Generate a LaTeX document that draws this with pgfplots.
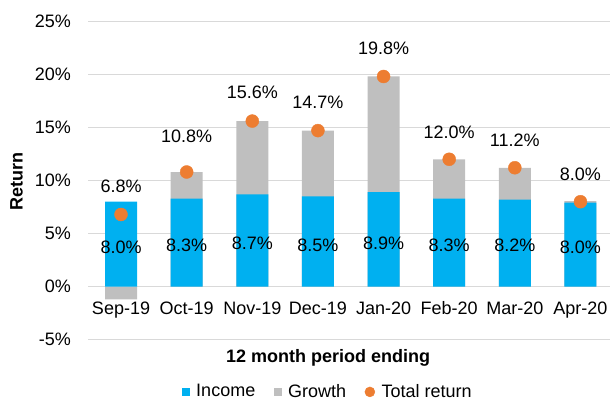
\documentclass[border=0pt]{standalone}
\usepackage{pgfplots}
\pgfplotsset{compat=1.18}
\usepackage{fontspec}
\setmainfont{Liberation Sans}
\definecolor{inc}{HTML}{00B0F0}
\definecolor{gro}{HTML}{BFBFBF}
\definecolor{tot}{HTML}{ED7D31}
\definecolor{gridc}{HTML}{D9D9D9}
\begin{document}
\fontsize{18bp}{21bp}\selectfont
\begin{tikzpicture}
\useasboundingbox (0,0) rectangle (610bp,401bp);
\begin{axis}[
  at={(88.2bp,61.3bp)}, anchor=south west,
  scale only axis, width=521.8bp, height=318.4bp,
  xmin=-0.5, xmax=7.45, ymin=-5, ymax=25,
  ytick={-5,0,5,10,15,20,25},
  yticklabels={-5\%,0\%,5\%,10\%,15\%,20\%,25\%},
  xtick={0,1,2,3,4,5,6,7},
  xticklabels={Sep-19,Oct-19,Nov-19,Dec-19,Jan-20,Feb-20,Mar-20,Apr-20},
  xticklabel style={yshift=44bp},
  yticklabel style={xshift=-11bp},
  axis line style={draw=none},
  major tick length=0pt,
  ymajorgrids, grid style={gridc, line width=1.2bp},
  xlabel={\bfseries 12 month period ending},
  xlabel style={at={(axis description cs:0.4598,-0.056)}, anchor=center},
  ylabel={\bfseries Return},
  ylabel style={at={(axis description cs:-0.1374,0.498)}, anchor=center},
  legend columns=-1,
  legend style={draw=none, at={(axis description cs:0.4605,-0.164)}, anchor=center,
    /tikz/every even column/.append style={column sep=15bp},
    nodes={inner xsep=3.5bp}},
]
\addlegendimage{legend image code/.code={\fill[inc] (0bp,-3.75bp) rectangle (7.5bp,3.75bp); \path (10.5bp,0bp);}}
\addlegendentry{Income}
\addlegendimage{legend image code/.code={\fill[gro] (0bp,-3.75bp) rectangle (7.5bp,3.75bp); \path (10.5bp,0bp);}}
\addlegendentry{Growth}
\addlegendimage{legend image code/.code={\fill[tot] (5bp,0bp) circle (5bp); \path (13bp,0bp);}}
\addlegendentry{Total return}
% growth (drawn as full bar to total; negative growth from zero)
\addplot[ybar, bar width=32bp, bar shift=0pt, fill=gro, draw=none, forget plot]
  coordinates {(0,-1.2) (1,10.8) (2,15.6) (3,14.7) (4,19.8) (5,12.0) (6,11.2) (7,8.05)};
% income
\addplot[ybar, bar width=32bp, bar shift=0pt, fill=inc, draw=none, forget plot]
  coordinates {(0,8.0) (1,8.3) (2,8.7) (3,8.5) (4,8.9) (5,8.3) (6,8.2) (7,7.92)};
% income labels
\addplot[draw=none, mark=none, forget plot, nodes near coords, point meta=explicit symbolic,
  every node near coord/.append style={anchor=center, text=black}]
  coordinates {(0,3.75)[8.0\%] (1,3.93)[8.3\%] (2,4.12)[8.7\%] (3,3.93)[8.5\%]
               (4,4.12)[8.9\%] (5,3.87)[8.3\%] (6,3.87)[8.2\%] (7,3.75)[8.0\%]};
% total return
\addplot[only marks, mark=*, mark size=6.5bp, color=tot, forget plot]
  coordinates {(0,6.8) (1,10.8) (2,15.6) (3,14.7) (4,19.8) (5,12.0) (6,11.2) (7,8.0)};
% total return labels
\addplot[draw=none, mark=none, forget plot, nodes near coords, point meta=explicit symbolic,
  every node near coord/.append style={anchor=center, text=black}]
  coordinates {(0,9.44)[6.8\%] (1,14.12)[10.8\%] (2,18.27)[15.6\%] (3,17.33)[14.7\%]
               (4,22.42)[19.8\%] (5,14.5)[12.0\%] (6,13.75)[11.2\%] (7,10.63)[8.0\%]};
\end{axis}
\end{tikzpicture}
\end{document}
